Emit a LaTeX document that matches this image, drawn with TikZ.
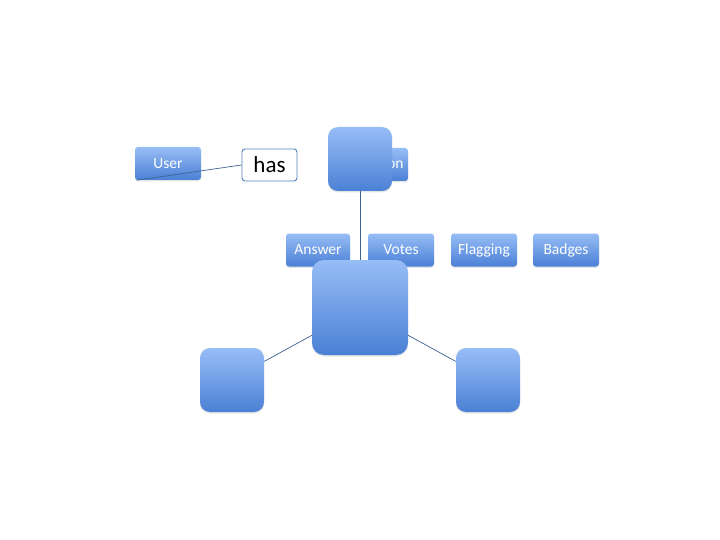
\documentclass[tikz,border=0pt]{standalone}
\usepackage{fontspec}
\setmainfont{Carlito}
\usetikzlibrary{shadows}
\definecolor{boxtop}{HTML}{97BDF6}
\definecolor{boxbot}{HTML}{4A80D5}
\definecolor{linkcol}{HTML}{3E6194}
\definecolor{hasedge}{HTML}{4F7FBE}

\begin{document}
\begin{tikzpicture}
[
	x=1pt, y=-1pt,
	box/.style = {rectangle, rounded corners=3pt, inner sep=0pt, top color=boxtop, bottom color=boxbot, draw=none,
		text=white, font=\fontsize{15.5}{17}\selectfont,
		drop shadow={opacity=0.2, shadow xshift=0pt, shadow yshift=-1.5pt}},
	tag/.style = {box, minimum width=66pt, minimum height=33pt},
	blob/.style = {box, rounded corners=10pt, minimum width=64pt, minimum height=64pt},
	link/.style = {linkcol, line width=0.7pt},
]
\useasboundingbox (0,0) rectangle (720,540);

% entities
\node[tag] (user) at (168,163.5) {User};
\node[tag] (question) at (375,164.5) {Question};
\node[blob] (top) at (360,159) {};

\node[tag, minimum width=64pt] (answer) at (318,250) {Answer};
\node[tag] (votes) at (401,250) {Votes};
\node[tag] (flagging) at (484,250) {Flagging};
\node[tag] (badges) at (566,250) {Badges};

\node[blob, minimum width=96pt, minimum height=95pt, rounded corners=12pt] (central) at (360,307.5) {};
\node[blob] (left) at (232,380) {};
\node[blob] (right) at (488,380) {};

\node[draw=hasedge, line width=0.9pt, fill=white, rounded corners=3pt, inner sep=0pt, minimum width=55pt, minimum height=32pt,
	font=\fontsize{23}{25}\selectfont] (has) at (269.5,165) {has};

% links
\draw[link] (user.208) -- (has.west);
\draw[link] (top.south) -- (central.north);
\draw[link] (central.210) -- (left.30);
\draw[link] (central.-30) -- (right.150);
\end{tikzpicture}
\end{document}
